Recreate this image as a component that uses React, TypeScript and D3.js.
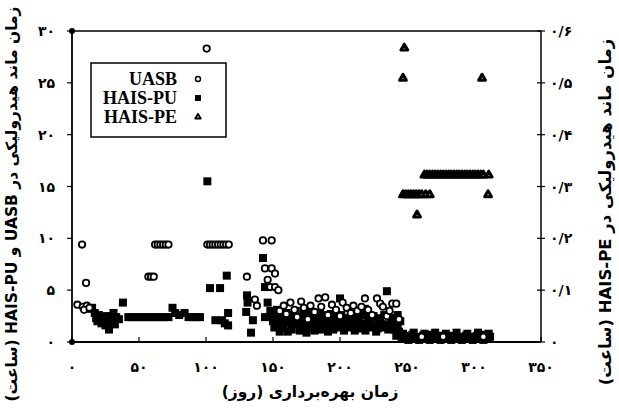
import React from 'react';
import * as d3 from 'd3';

// [day, hours]
const uasb: [number, number][] = [
  [4, 3.6], [7.5, 9.4], [8, 3.4], [10.5, 5.7], [11, 3.5], [9, 3.1], [13, 3.3],
  [57, 6.3], [59, 6.3], [61, 6.3],
  [62, 9.4], [64, 9.4], [66, 9.4], [68, 9.4], [70, 9.4], [72, 9.4],
  [100.5, 28.3],
  [101, 9.4], [103, 9.4], [105, 9.4], [107, 9.4], [109, 9.4], [111, 9.4], [113, 9.4], [115, 9.4], [117, 9.4],
  [130.5, 6.3], [136.5, 4.1], [138, 3.5],
  [142.5, 9.8], [149, 9.8], [144, 7.1], [149, 7.1], [151.5, 6.6], [146, 6.0], [148, 5.3], [151.5, 5.3], [154, 5.0],
  [155, 3.0], [158, 3.5], [160, 2.7], [163, 3.8], [166, 3.1], [168, 2.4], [171, 3.9], [173, 3.3], [176, 2.2],
  [178, 3.5], [181, 2.9], [184, 4.2], [186, 3.4], [189, 4.3], [191, 2.6], [194, 3.6], [197, 3.1], [200, 2.5],
  [202, 3.8], [205, 3.3], [208, 2.8], [210, 3.5], [213, 3.0], [216, 3.4], [218.6, 4.2], [221, 3.1], [224, 2.6],
  [227.6, 4.2], [230, 3.7], [232, 3.4], [235, 2.5], [237, 3.0], [239, 3.7], [242, 3.7], [244, 2.2],
  [261, 0.5], [277, 0.5], [307, 0.5],
];

const haisPU: [number, number][] = [
  [13, 3.2], [15, 3.3], [17, 2.8], [18, 2.3], [19, 2.0], [20, 2.6], [21, 2.2], [22, 1.8], [23, 2.4], [24, 2.0],
  [25, 1.6], [26, 2.5], [27, 2.2], [27.6, 1.2], [28, 1.9], [29, 2.4], [30, 2.1], [31, 2.8], [32, 1.7], [33, 2.4],
  [35, 2.2], [38, 3.8],
  [42, 2.4], [45, 2.4], [48, 2.4], [51, 2.4], [54, 2.4], [57, 2.4], [60, 2.4], [63, 2.4], [66, 2.4], [69, 2.4],
  [72, 2.4], [75, 3.3], [77, 2.8], [80, 2.6], [84, 2.8], [87, 2.4], [90, 2.4], [93, 2.4], [95.5, 2.4],
  [101, 15.5], [103, 5.2], [110.5, 5.2], [107, 2.1], [112, 2.1], [114, 1.8], [115.5, 6.4], [116.5, 2.8], [116.5, 1.6],
  [130.6, 4.5], [131, 3.8], [130, 2.9], [135, 2.1], [133.6, 0.9], [142.5, 8.1], [144, 5.3], [146, 3.8], [144, 2.4],
  [148, 3.0], [150, 2.0], [152, 2.6], [154, 1.6], [156, 2.2], [158, 1.4], [160, 2.8], [162, 1.9], [164, 1.2],
  [166, 2.4], [168, 1.7], [170, 1.1], [172, 2.2], [174, 1.5], [176, 2.9], [178, 1.3], [180, 2.0], [182, 1.5],
  [184, 2.4], [186, 1.2], [188, 1.8], [190, 2.6], [192, 1.4], [194, 2.0], [196, 1.6], [198, 2.2], [200, 4.2],
  [200, 1.4], [202, 1.9], [204, 1.6], [206, 2.3], [208, 1.4], [210, 1.8], [212, 1.5], [214, 2.1], [216, 1.3],
  [218, 1.7], [220, 1.5], [222, 2.0], [224, 1.4], [226, 1.6], [228, 1.3], [218.6, 3.2], [230, 2.0], [232, 1.4],
  [234, 1.7], [235, 4.9], [236, 1.2], [238, 2.3], [240, 1.5], [242, 0.6], [244, 1.0], [245, 2.0],
  [149, 2.5], [151, 1.4], [153, 3.1], [155, 1.0], [157, 2.9], [159, 2.0], [161, 1.0], [163, 2.6], [165, 1.8],
  [167, 3.0], [169, 2.3], [171, 1.6], [173, 2.8], [175, 0.9], [177, 2.1], [179, 2.6], [181, 1.1], [183, 1.9],
  [185, 2.8], [187, 1.5], [189, 2.2], [191, 1.0], [193, 2.7], [195, 1.2], [197, 2.5], [199, 1.8], [201, 2.6],
  [203, 1.1], [205, 2.0], [207, 1.7], [209, 2.5], [211, 1.1], [213, 2.4], [215, 1.8], [217, 2.6], [219, 1.1],
  [221, 2.4], [223, 1.8], [225, 2.5], [227, 1.0], [229, 2.3], [231, 1.7], [233, 2.6], [237, 1.6], [239, 2.0],
  [241, 1.2], [243, 2.6], [243, 1.6],
  [246, 0.4], [248, 0.6], [250, 0.3], [252, 0.5], [254, 0.7], [256, 0.4], [258, 0.5], [260, 0.3], [262, 0.6],
  [264, 0.4], [266, 0.5], [268, 0.7], [270, 0.3], [272, 0.5], [274, 0.4], [276, 0.6], [278, 0.3], [280, 0.5],
  [282, 0.4], [284, 0.6], [286, 0.5], [288, 0.3], [290, 0.5], [292, 0.4], [294, 0.6], [296, 0.4], [298, 0.5],
  [300, 0.3], [302, 0.6], [304, 0.4], [306, 0.5], [308, 0.7], [310, 0.4], [312, 0.5],
  [247, 0.8], [251, 0.2], [255, 0.9], [259, 0.2], [263, 0.8], [267, 0.2], [271, 0.9], [275, 0.2], [279, 0.8],
  [283, 0.2], [287, 0.9], [291, 0.2], [295, 0.8], [299, 0.2], [303, 0.9], [307, 0.2], [311, 0.8],
];

// right axis (hours)
const haisPE: [number, number][] = [
  [248, 0.567], [247, 0.509], [306, 0.509],
  [263, 0.322], [265, 0.322], [267, 0.322], [269, 0.322], [271, 0.322], [273, 0.322], [275, 0.322], [277, 0.322],
  [279, 0.322], [281, 0.322], [283, 0.322], [285, 0.322], [287, 0.322], [289, 0.322], [291, 0.322], [293, 0.322],
  [295, 0.322], [297, 0.322], [299, 0.322], [301, 0.322], [303, 0.322], [305, 0.322], [307, 0.322], [311, 0.322],
  [247, 0.284], [249, 0.284], [251, 0.284], [253, 0.284], [255, 0.284], [257, 0.284], [259, 0.284], [261, 0.284],
  [264, 0.284], [267, 0.284], [310.5, 0.284], [257.5, 0.245],
];

const xTicks = [0, 50, 100, 150, 200, 250, 300, 350];
const yLeftTicks = [0, 5, 10, 15, 20, 25, 30];
const yRightTicks = [0, 0.1, 0.2, 0.3, 0.4, 0.5, 0.6];
const seriesNames = ['UASB', 'HAIS-PU', 'HAIS-PE'];

const faDigits = '۰۱۲۳۴۵۶۷۸۹';
const fa = (s: string) => s.replace(/[0-9]/g, (d) => faDigits[+d]).replace('.', '/');

const W = 619, H = 410;
const m = { left: 72, right: 541, top: 31, bottom: 342 };
const serif = '"Liberation Serif", "Times New Roman", "DejaVu Serif", serif';

export default function App() {
  const x = d3.scaleLinear().domain([0, 350]).range([m.left, m.right]);
  const yL = d3.scaleLinear().domain([0, 30]).range([m.bottom, m.top]);
  const yR = d3.scaleLinear().domain([0, 0.6]).range([m.bottom, m.top]);
  const tri = d3.symbol().type(d3.symbolTriangle).size(20)();
  const numFont = { fontFamily: 'DejaVu Sans', fontWeight: 'bold' as const, fontSize: 14 };
  const titleFont = { fontFamily: 'DejaVu Sans', fontWeight: 'bold' as const, fontSize: 15.5 };

  return (
    <svg width={W} height={H} style={{ position: 'absolute', left: 0, top: 0, background: '#fff' }}>
      {/* frame */}
      <line x1={m.left} x2={m.right} y1={m.top} y2={m.top} stroke="#000" strokeWidth={1.5} />
      <line x1={m.left} x2={m.right} y1={m.bottom} y2={m.bottom} stroke="#000" strokeWidth={1.8} />
      <line x1={m.left} x2={m.left} y1={m.top} y2={m.bottom} stroke="#000" strokeWidth={1.8} />
      <line x1={m.right} x2={m.right} y1={m.top} y2={m.bottom} stroke="#000" strokeWidth={1.5} />
      <circle cx={m.left} cy={m.top} r={3} fill="#000" />
      <circle cx={m.left} cy={m.bottom} r={3} fill="#000" />

      {/* x axis */}
      {xTicks.map((t) => (
        <g key={'x' + t}>
          <line x1={x(t)} x2={x(t)} y1={m.bottom} y2={m.bottom - 5} stroke="#000" strokeWidth={1.2} />
          <text x={x(t)} y={372} textAnchor="middle" style={numFont}>{fa(String(t))}</text>
        </g>
      ))}
      {/* left axis */}
      {yLeftTicks.map((t) => (
        <g key={'l' + t}>
          <line x1={m.left - 5} x2={m.left} y1={yL(t)} y2={yL(t)} stroke="#000" strokeWidth={1.2} />
          <text x={55} y={yL(t) + 5} textAnchor="end" style={numFont}>{fa(String(t))}</text>
        </g>
      ))}
      {/* right axis */}
      {yRightTicks.map((t) => (
        <g key={'r' + t}>
          <line x1={m.right - 4} x2={m.right + 4} y1={yR(t)} y2={yR(t)} stroke="#000" strokeWidth={1.2} />
          <text x={550} y={yR(t) + 5} textAnchor="start" style={numFont}>{fa(String(+t.toFixed(1)))}</text>
        </g>
      ))}

      {/* titles */}
      <text x={310} y={397} textAnchor="middle" direction="rtl" style={titleFont}>
        زمان بهره‌برداری (روز)
      </text>
      <text transform="translate(17,204) rotate(-90)" textAnchor="middle" direction="rtl" style={titleFont}>
        زمان ماند هیدرولیکی در UASB و HAIS-PU (ساعت)
      </text>
      <text transform="translate(611,212) rotate(-90)" textAnchor="middle" direction="rtl"
        style={{ ...titleFont, fontSize: 16.5 }}>
        زمان ماند هیدرولیکی در HAIS-PE (ساعت)
      </text>

      {/* data */}
      {haisPU.map((d, i) => (
        <rect key={'p' + i} x={x(d[0]) - 4} y={yL(d[1]) - 4} width={8} height={8} fill="#000" />
      ))}
      {uasb.map((d, i) => (
        <circle key={'u' + i} cx={x(d[0])} cy={yL(d[1])} r={3.2} fill="#fff" stroke="#000" strokeWidth={1.8} />
      ))}
      {haisPE.map((d, i) => (
        <path key={'e' + i} d={tri!} transform={`translate(${x(d[0])},${yR(d[1])})`} fill="#fff" stroke="#000" strokeWidth={3} strokeLinejoin="round" />
      ))}

      {/* legend */}
      <rect x={91} y={63} width={135} height={74} fill="#fff" stroke="#000" strokeWidth={1.5} />
      {seriesNames.map((s, i) => {
        const cy = 79 + i * 19;
        return (
          <g key={s}>
            <text x={177} y={cy + 6} textAnchor="end"
              style={{ fontFamily: serif, fontWeight: 'bold', fontSize: 18 }}>{s}</text>
            {i === 0 && <circle cx={198} cy={cy} r={2.5} fill="#fff" stroke="#000" strokeWidth={1.4} />}
            {i === 1 && <rect x={195} y={cy - 3} width={6} height={6} fill="#000" />}
            {i === 2 && <path d={tri!} transform={`translate(198,${cy}) scale(0.8)`} fill="#fff" stroke="#000" strokeWidth={2.4} strokeLinejoin="round" />}
          </g>
        );
      })}
    </svg>
  );
}
